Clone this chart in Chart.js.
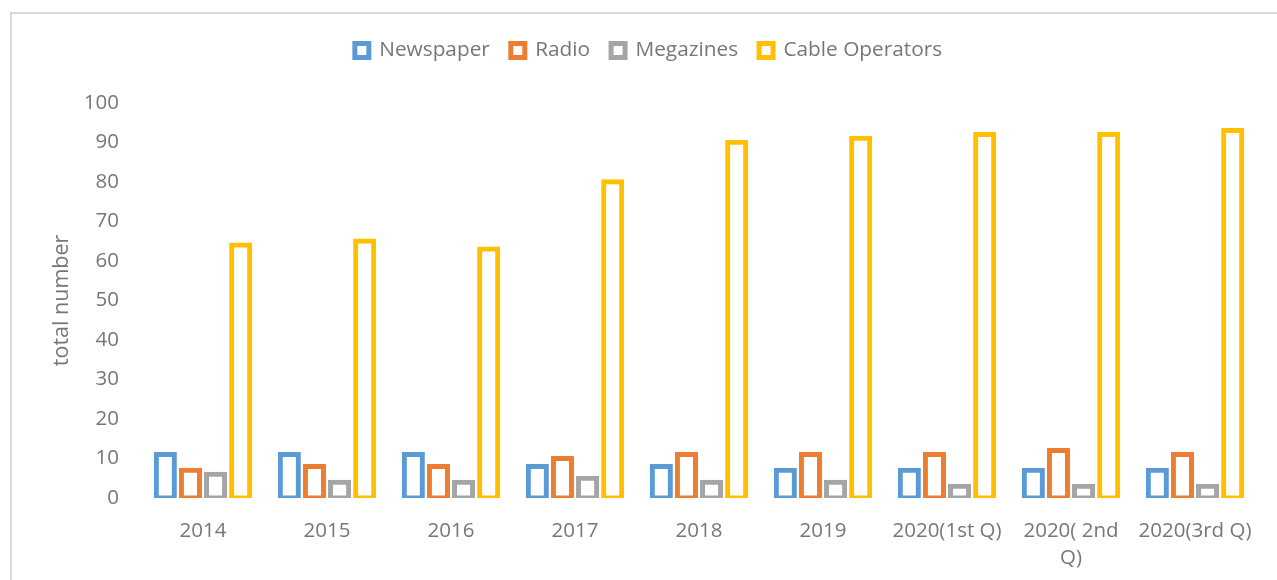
<!DOCTYPE html>
<html>
<head>
<meta charset="utf-8">
<script src="https://cdn.jsdelivr.net/npm/chart.js@4"></script>
<style>
  html, body { margin: 0; padding: 0; background: #fff; overflow: hidden; }
  #frame { position: absolute; left: 10px; top: 12px; width: 1300px; height: 600px; border-left: 2px solid #d9d9d9; border-top: 2px solid #d9d9d9; }
  #chart { position: absolute; left: 0; top: 0; }
</style>
</head>
<body>
<div id="frame"></div>
<canvas id="chart" width="1277" height="580"></canvas>
<script>
// categories and series
const years = ['2014', '2015', '2016', '2017', '2018', '2019', '2020(1st Q)', ['2020( 2nd', 'Q)'], '2020(3rd Q)'];
const newspaper = [11, 11, 11, 8, 8, 7, 7, 7, 7];
const radio = [7, 8, 8, 10, 11, 11, 11, 12, 11];
const megazines = [6, 4, 4, 5, 4, 4, 3, 3, 3];
const cableOperators = [64, 65, 63, 80, 90, 91, 92, 92, 93];

const textColor = '#777777';
const fontFamily = '"Open Sans", sans-serif';

// outline-only bars; inflate so the stroke sits on the bar edge like Excel does
function outlined(label, data, color) {
    return {
        label: label,
        data: data,
        backgroundColor: '#ffffff',
        borderColor: color,
        borderWidth: 5,
        borderSkipped: false,
        inflateAmount: 2.5,
        categoryPercentage: 0.81,
        barPercentage: 0.72
    };
}

// push the plot down a bit below the legend
const legendGap = {
    id: 'legendGap',
    beforeInit(chart) {
        const fit = chart.legend.fit;
        chart.legend.fit = function() {
            fit.bind(chart.legend)();
            this.height += 32;
        };
    }
};

new Chart(document.getElementById('chart'), {
    type: 'bar',
    data: {
        labels: years,
        datasets: [
            outlined('Newspaper', newspaper, '#5B9BD5'),
            outlined('Radio', radio, '#ED7D31'),
            outlined('Megazines', megazines, '#A5A5A5'),
            outlined('Cable Operators', cableOperators, '#FFC000')
        ]
    },
    options: {
        responsive: false,
        animation: false,
        layout: { padding: { left: 40, right: 20, top: 19, bottom: 0 } },
        plugins: {
            tooltip: { enabled: false },
            legend: {
                position: 'top',
                labels: {
                    color: textColor,
                    font: { family: fontFamily, size: 20.8 },
                    boxWidth: 14,
                    boxHeight: 14,
                    padding: 21
                }
            }
        },
        scales: {
            x: {
                grid: { display: false, drawTicks: false },
                border: { display: false },
                ticks: {
                    color: textColor,
                    font: { family: fontFamily, size: 20.5, lineHeight: 1.3 },
                    padding: 20,
                    maxRotation: 0,
                    autoSkip: false
                },
                afterFit(scale) { scale.height = 82; }
            },
            y: {
                min: 0,
                max: 100,
                grid: { display: false, drawTicks: false },
                border: { display: false },
                ticks: {
                    stepSize: 10,
                    color: textColor,
                    font: { family: fontFamily, size: 20.5 },
                    padding: 22
                },
                title: {
                    display: true,
                    text: 'total number',
                    color: textColor,
                    font: { family: fontFamily, size: 21.5 },
                    padding: { top: 9, bottom: 0 }
                },
                afterFit(scale) { scale.width = 101; }
            }
        }
    },
    plugins: [legendGap]
});
</script>
</body>
</html>
